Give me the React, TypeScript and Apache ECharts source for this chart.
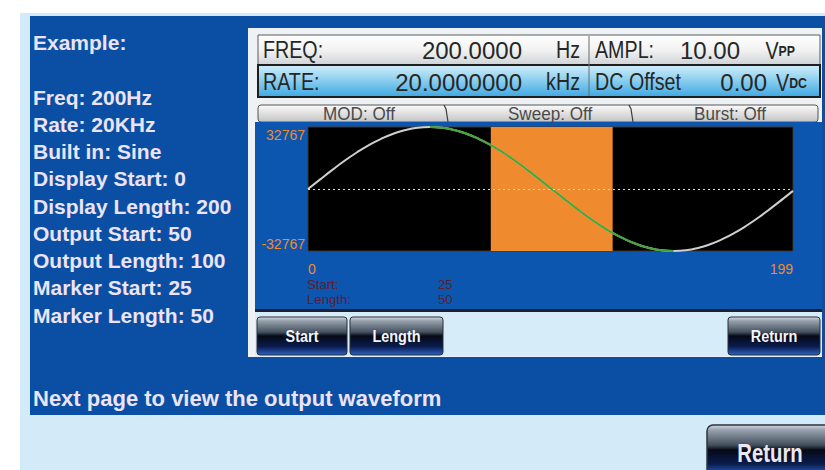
import React, { useEffect, useRef } from "react";
import * as echarts from "echarts";

// ---- data ----
const sampleIndex = [0, 5, 10, 15, 20, 25, 30, 35, 40, 45, 50, 55, 60, 65, 70, 75, 80, 85, 90, 95, 100, 105, 110, 115, 120, 125, 130, 135, 140, 145, 150, 155, 160, 165, 170, 175, 180, 185, 190, 195, 199];
const sampleValue = [0, 5100, 10100, 14900, 19300, 23200, 26500, 29200, 31200, 32400, 32767, 32400, 31200, 29200, 26500, 23200, 19300, 14900, 10100, 5100, 0, -5100, -10100, -14900, -19300, -23200, -26500, -29200, -31200, -32400, -32767, -32400, -31200, -29200, -26500, -23200, -19300, -14900, -10100, -5100, -1000];
const displayStart = 0;
const displayLength = 200;
const outputStart = 50;
const outputLength = 100;
const markerStart = 25;
const markerLength = 50;
const yLimit = 32767;

const settingLines = ["Freq: 200Hz", "Rate: 20KHz", "Built in: Sine", "Display Start: 0", "Display Length: 200", "Output Start: 50", "Output Length: 100", "Marker Start: 25", "Marker Length: 50"];
const headerLabels = ["FREQ:", "RATE:", "AMPL:", "DC Offset"];
const headerValues = ["200.0000", "20.0000000", "10.00", "0.00"];
const headerUnits = ["Hz", "kHz"];
const tabLabels = ["MOD: Off", "Sweep: Off", "Burst: Off"];
const buttonLabels = ["Start", "Length", "Return"];

const SANS = '"Liberation Sans", Arial, sans-serif';
const NARROW_SCALE = 0.82;

function grad(stops: [number, string][]) {
  return new echarts.graphic.LinearGradient(0, 0, 0, 1, stops.map(([offset, color]) => ({ offset, color })));
}

function rect(x: number, y: number, w: number, h: number, fill: any, extra: any = {}) {
  return {
    type: "rect",
    z: -10,
    silent: true,
    shape: { x, y, width: w, height: h, r: extra.r || 0 },
    style: { fill, stroke: extra.stroke, lineWidth: extra.lineWidth || 0 },
  };
}

function txt(x: number, y: number, text: string, style: any, scaleX = 1) {
  return {
    type: "text",
    z: 20,
    silent: true,
    x,
    y,
    scaleX,
    style: { text, verticalAlign: "middle", align: "left", fontFamily: SANS, ...style },
  };
}

const buttonGrad = () =>
  grad([
    [0, "#d2d8de"],
    [0.1, "#98a2ae"],
    [0.4, "#44505e"],
    [0.5, "#060a16"],
    [0.78, "#0a1c4e"],
    [1, "#2a64c8"],
  ]);

export default function App() {
  const ref = useRef<HTMLDivElement>(null);

  useEffect(() => {
    if (!ref.current) return;
    const chart = echarts.init(ref.current, undefined, { renderer: "svg" });

    const full = sampleIndex.map((i, k) => [i, sampleValue[k]]);
    const outEnd = outputStart + outputLength;
    const green = full.filter((p) => p[0] >= outputStart && p[0] <= outEnd);
    const mFrom = outputStart + markerStart;
    const mTo = mFrom + markerLength;
    const xMax = displayStart + displayLength - 1;

    const graphics: any[] = [];
    // outer backgrounds
    graphics.push(rect(20, 13, 805, 457, "#d3eaf8"));
    graphics.push(rect(30, 16, 795, 399, "#0b4fa4"));
    // screen frame
    graphics.push(rect(248, 28, 574, 329, "#eef2f5"));
    // header rows
    graphics.push(rect(258, 35, 562, 30, grad([[0, "#ffffff"], [0.5, "#f2f2f2"], [1, "#cfd3d6"]]), { stroke: "#5a5a5a", lineWidth: 1 }));
    graphics.push(rect(258, 65, 562, 32, grad([[0, "#d2eefb"], [0.45, "#8fd0f0"], [1, "#3ea8e2"]]), { stroke: "#1e1e1e", lineWidth: 2 }));
    graphics.push({ type: "line", z: -9, silent: true, shape: { x1: 589, y1: 36, x2: 589, y2: 96 }, style: { stroke: "#6a6a6a", lineWidth: 1 } });
    // tabs
    graphics.push(rect(258, 105, 560, 17, grad([[0, "#fbfbfb"], [1, "#c4c4c4"]]), { stroke: "#555", lineWidth: 1, r: 3 }));
    [447, 632].forEach((sx) =>
      graphics.push({ type: "polyline", z: -9, silent: true, shape: { points: [[sx - 3, 105], [sx - 1, 109], [sx + 1, 122]] }, style: { stroke: "#3a3a3a", lineWidth: 1.2, fill: "none" } })
    );
    // chart blue panel
    graphics.push(rect(255, 122, 567, 188, "#0c56b0"));
    graphics.push(rect(255, 309, 567, 3, "#1b2232"));
    graphics.push(rect(255, 312, 567, 44, "#d6ecf8"));
    // buttons on screen
    const btns = [
      [257, 90, buttonLabels[0]],
      [350, 93, buttonLabels[1]],
      [728, 92, buttonLabels[2]],
    ] as [number, number, string][];
    btns.forEach(([bx, bw, label]) => {
      graphics.push(rect(bx, 317, bw, 38, buttonGrad(), { stroke: "#2a2f38", lineWidth: 1, r: 3 }));
      graphics.push(txt(bx + bw / 2, 336, label, { align: "center", fill: "#f4f4fa", fontWeight: "bold", fontSize: 17 }, 0.85));
    });
    // bottom return button
    graphics.push(rect(707, 425, 125, 50, buttonGrad(), { stroke: "#30343c", lineWidth: 1.5, r: 6 }));
    graphics.push(txt(770, 453, buttonLabels[2], { align: "center", fill: "#ece8f2", fontWeight: "bold", fontSize: 26 }, 0.78));

    // left setting texts
    const lt = "#ece4f6";
    graphics.push(txt(33, 42, "Example:", { fill: lt, fontWeight: "bold", fontSize: 21 }));
    settingLines.forEach((s, k) =>
      graphics.push(txt(33, 97 + k * 27.25, s, { fill: lt, fontWeight: "bold", fontSize: 21 }))
    );
    graphics.push(txt(33, 398, "Next page to view the output waveform", { fill: lt, fontWeight: "bold", fontSize: 22 }));

    // header texts
    const dark = "#262626";
    const N = NARROW_SCALE;
    graphics.push(txt(263, 50, headerLabels[0], { fill: dark, fontSize: 24 }, N));
    graphics.push(txt(263, 82, headerLabels[1], { fill: dark, fontSize: 24 }, N));
    graphics.push(txt(595, 50, headerLabels[2], { fill: dark, fontSize: 24 }, N));
    graphics.push(txt(595, 82, headerLabels[3], { fill: dark, fontSize: 24 }, N));
    graphics.push(txt(522, 50, headerValues[0], { align: "right", fill: dark, fontSize: 24 }));
    graphics.push(txt(522, 82, headerValues[1], { align: "right", fill: dark, fontSize: 24 }));
    graphics.push(txt(740, 50, headerValues[2], { align: "right", fill: dark, fontSize: 24 }));
    graphics.push(txt(767, 82, headerValues[3], { align: "right", fill: dark, fontSize: 24 }));
    graphics.push(txt(580, 50, headerUnits[0], { align: "right", fill: dark, fontSize: 24 }, N));
    graphics.push(txt(580, 82, headerUnits[1], { align: "right", fill: dark, fontSize: 24 }, N));
    const unitRich = {
      a: { fontFamily: SANS, fontSize: 24, fill: dark, color: dark },
      b: { fontFamily: SANS, fontSize: 15, fontWeight: "bold", fill: dark, color: dark },
    };
    graphics.push(txt(795, 51, "{a|V}{b|PP}", { align: "right", fill: dark, rich: unitRich }, N));
    graphics.push(txt(807, 83, "{a|V}{b|DC}", { align: "right", fill: dark, rich: unitRich }, N));
    // tabs text
    [359, 550, 730].forEach((cx, k) =>
      graphics.push(txt(cx, 114, tabLabels[k], { align: "center", fill: "#4a4a4a", fontSize: 18 }, 0.95))
    );
    // start / length readouts
    const red = "#5e1e2c";
    graphics.push(txt(307, 285, "Start:", { fill: red, fontSize: 12 }, 1.1));
    graphics.push(txt(307, 300, "Length:", { fill: red, fontSize: 12 }, 1.1));
    graphics.push(txt(438, 285, String(markerStart), { fill: red, fontSize: 12 }, 1.1));
    graphics.push(txt(438, 300, String(markerLength), { fill: red, fontSize: 12 }, 1.1));

    const orange = "#f08a2e";

    chart.setOption({
      animation: false,
      backgroundColor: "#ffffff",
      graphic: { elements: graphics },
      grid: {
        left: 308,
        top: 127,
        right: 32,
        bottom: 219,
        show: true,
        backgroundColor: "#000000",
        borderColor: "#4a3420",
        borderWidth: 1,
      },
      xAxis: {
        type: "value",
        min: displayStart,
        max: xMax,
        interval: xMax,
        axisLine: { show: false },
        axisTick: { show: false },
        splitLine: { show: false },
        axisLabel: {
          color: orange,
          fontSize: 14,
          fontFamily: SANS,
          margin: 11,
          showMinLabel: true,
          showMaxLabel: true,
          alignMinLabel: "left",
          alignMaxLabel: "right",
        },
      },
      yAxis: {
        type: "value",
        min: -yLimit,
        max: yLimit,
        interval: yLimit,
        axisLine: { show: false },
        axisTick: { show: false },
        splitLine: { show: false },
        axisLabel: {
          color: orange,
          fontSize: 14,
          fontFamily: SANS,
          margin: 3,
          formatter: (v: number) => (v === yLimit ? "{t|" + v + "}" : v === -yLimit ? "{b|" + v + "}" : ""),
          rich: {
            t: { color: orange, fontSize: 14, fontFamily: SANS, padding: [15, 0, 0, 0] },
            b: { color: orange, fontSize: 14, fontFamily: SANS, padding: [0, 0, 15, 0] },
          },
        },
      },
      series: [
        {
          type: "line",
          data: full,
          smooth: true,
          showSymbol: false,
          silent: true,
          z: 2,
          lineStyle: { color: "#cfcfcf", width: 2 },
          markArea: {
            silent: true,
            itemStyle: { color: orange },
            data: [[{ xAxis: mFrom }, { xAxis: mTo }]],
          },
        },
        {
          type: "line",
          data: green,
          smooth: true,
          showSymbol: false,
          silent: true,
          z: 4,
          lineStyle: { color: "#40a636", width: 2 },
          markLine: {
            silent: true,
            symbol: "none",
            label: { show: false },
            lineStyle: { color: "#e0d8c8", width: 1, type: [2, 3] },
            data: [{ yAxis: 0 }],
          },
        },
      ],
    });

    return () => chart.dispose();
  }, []);

  return <div ref={ref} style={{ position: "fixed", left: 0, top: 0, width: 825, height: 470 }} />;
}
